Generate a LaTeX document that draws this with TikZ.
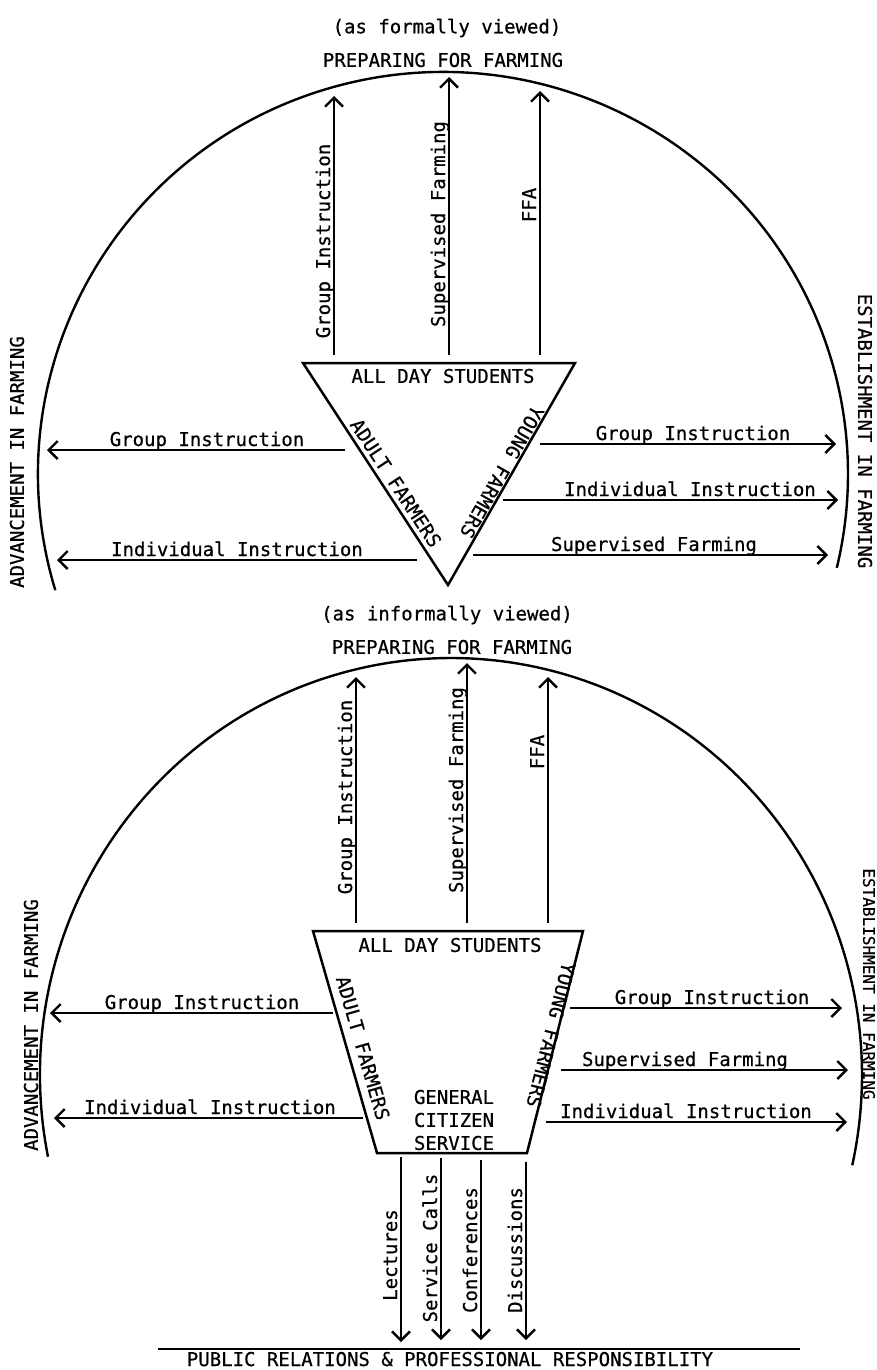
\documentclass[tikz,border=0pt]{standalone}
\usepackage{fontspec}
\newfontfamily\twfont[FakeBold=0.6]{DejaVu Sans Mono}
\usetikzlibrary{arrows.meta}
\begin{document}
\begin{tikzpicture}[x=1pt,y=1pt,
  lbl/.style={font={\twfont\fontsize{19}{23}\selectfont}, inner sep=0pt},
  arr/.style={line width=2.4pt, -{Straight Barb[length=9pt,width=18pt,line width=2.4pt]}},
  shp/.style={line width=2.5pt, line join=miter},
  arcline/.style={line width=2.4pt}]
\useasboundingbox (0,0) rectangle (877,-1370);

%================ TOP (formal) =================
\node[lbl] (t1) at (447,-28) {(as formally viewed)};
\node[lbl] (p1) at (443,-60) {PREPARING FOR FARMING};
\draw[arcline] (443,-474) ++(196.8:405 and 402) arc[start angle=196.8, end angle=-13.5, x radius=405, y radius=402];

\coordinate (A1) at (303,-363);
\coordinate (B1) at (575,-363);
\coordinate (C1) at (448,-585);
\draw[shp] (A1) -- (B1) -- (C1) -- cycle;
\node[lbl] (ads1) at (443,-376) {ALL DAY STUDENTS};
\node[lbl, rotate=-56.7] (af1) at (396,-483) {ADULT FARMERS};
\node[lbl, rotate=-119.7] (yf1) at (502,-472) {YOUNG FARMERS};

% up arrows
\coordinate (u1s) at (334,-355); \coordinate (u1e) at (334,-96);
\coordinate (u2s) at (449,-355); \coordinate (u2e) at (449,-77);
\coordinate (u3s) at (540,-355); \coordinate (u3e) at (540,-91);
\draw[arr] (u1s) -- (u1e);
\draw[arr] (u2s) -- (u2e);
\draw[arr] (u3s) -- (u3e);
\node[lbl, rotate=90, anchor=base] (lu1) at (330,-241) {Group Instruction};
\node[lbl, rotate=90, anchor=base] (lu2) at (445,-224) {Supervised Farming};
\node[lbl, rotate=90, anchor=base] (lu3) at (536,-205) {FFA};

% left arrows
\coordinate (l1s) at (345,-450); \coordinate (l1e) at (47,-450);
\coordinate (l2s) at (417,-560); \coordinate (l2e) at (57,-560);
\draw[arr] (l1s) -- (l1e);
\draw[arr] (l2s) -- (l2e);
\node[lbl, anchor=base] (ll1) at (207,-446) {Group Instruction};
\node[lbl, anchor=base] (ll2) at (237,-556) {Individual Instruction};

% right arrows
\coordinate (r1s) at (540,-444); \coordinate (r1e) at (836,-444);
\coordinate (r2s) at (503,-500); \coordinate (r2e) at (838,-500);
\coordinate (r3s) at (473,-555); \coordinate (r3e) at (828,-555);
\draw[arr] (r1s) -- (r1e);
\draw[arr] (r2s) -- (r2e);
\draw[arr] (r3s) -- (r3e);
\node[lbl, anchor=base] (lr1) at (693,-440) {Group Instruction};
\node[lbl, anchor=base] (lr2) at (690,-496) {Individual Instruction};
\node[lbl, anchor=base] (lr3) at (654,-551) {Supervised Farming};

\node[lbl, rotate=90] (adv1) at (17,-462) {ADVANCEMENT IN FARMING};
\node[lbl, rotate=-90] (est1) at (865,-431) {ESTABLISHMENT IN FARMING};

%================ BOTTOM (informal) =================
\node[lbl] (t2) at (447,-615) {(as informally viewed)};
\node[lbl] (p2) at (452,-647) {PREPARING FOR FARMING};
\draw[arcline] (451,-1075) ++(191.3:411 and 417) arc[start angle=191.3, end angle=-12.5, x radius=411, y radius=417];

\coordinate (A2) at (313,-931);
\coordinate (B2) at (583,-931);
\coordinate (C2) at (527,-1153);
\coordinate (D2) at (377,-1153);
\draw[shp] (A2) -- (B2) -- (C2) -- (D2) -- cycle;
\node[lbl] (ads2) at (450,-945) {ALL DAY STUDENTS};
\node[lbl, rotate=-73.9] (af2) at (363,-1048) {ADULT FARMERS};
\node[lbl, rotate=-104.1] (yf2) at (551,-1035) {YOUNG FARMERS};
\node[lbl, align=center] (gcs) at (454,-1120) {GENERAL\\CITIZEN\\SERVICE};

% up arrows
\coordinate (v1s) at (356,-923); \coordinate (v1e) at (356,-677);
\coordinate (v2s) at (467,-923); \coordinate (v2e) at (467,-663);
\coordinate (v3s) at (548,-923); \coordinate (v3e) at (548,-677);
\draw[arr] (v1s) -- (v1e);
\draw[arr] (v2s) -- (v2e);
\draw[arr] (v3s) -- (v3e);
\node[lbl, rotate=90, anchor=base] (lv1) at (352,-797) {Group Instruction};
\node[lbl, rotate=90, anchor=base] (lv2) at (463,-790) {Supervised Farming};
\node[lbl, rotate=90, anchor=base] (lv3) at (544,-752) {FFA};

% left arrows
\coordinate (m1s) at (333,-1013); \coordinate (m1e) at (50,-1013);
\coordinate (m2s) at (363,-1118); \coordinate (m2e) at (54,-1118);
\draw[arr] (m1s) -- (m1e);
\draw[arr] (m2s) -- (m2e);
\node[lbl, anchor=base] (lm1) at (202,-1009) {Group Instruction};
\node[lbl, anchor=base] (lm2) at (210,-1114) {Individual Instruction};

% right arrows
\coordinate (n1s) at (570,-1008); \coordinate (n1e) at (842,-1008);
\coordinate (n2s) at (561,-1070); \coordinate (n2e) at (848,-1070);
\coordinate (n3s) at (546,-1122); \coordinate (n3e) at (847,-1122);
\draw[arr] (n1s) -- (n1e);
\draw[arr] (n2s) -- (n2e);
\draw[arr] (n3s) -- (n3e);
\node[lbl, anchor=base] (ln1) at (712,-1004) {Group Instruction};
\node[lbl, anchor=base] (ln2) at (685,-1066) {Supervised Farming};
\node[lbl, anchor=base] (ln3) at (686,-1118) {Individual Instruction};

\node[lbl, rotate=90] (adv2) at (31,-1025) {ADVANCEMENT IN FARMING};
\node[lbl, rotate=-90, font={\twfont\fontsize{16}{19}\selectfont}] (est2) at (869,-984) {ESTABLISHMENT IN FARMING};

% down arrows
\coordinate (d1s) at (401,-1157); \coordinate (d1e) at (401,-1342);
\coordinate (d2s) at (441,-1158); \coordinate (d2e) at (441,-1340);
\coordinate (d3s) at (481,-1160); \coordinate (d3e) at (481,-1340);
\coordinate (d4s) at (526,-1162); \coordinate (d4e) at (526,-1340);
\draw[arr] (d1s) -- (d1e);
\draw[arr] (d2s) -- (d2e);
\draw[arr] (d3s) -- (d3e);
\draw[arr] (d4s) -- (d4e);
\node[lbl, rotate=90, anchor=base] (ld1) at (397,-1255) {Lectures};
\node[lbl, rotate=90, anchor=base] (ld2) at (437,-1248) {Service Calls};
\node[lbl, rotate=90, anchor=base] (ld3) at (477,-1250) {Conferences};
\node[lbl, rotate=90, anchor=base] (ld4) at (522,-1250) {Discussions};

\coordinate (bl1) at (158,-1349); \coordinate (bl2) at (800,-1349);
\draw[line width=2.4pt] (bl1) -- (bl2);
\node[lbl, anchor=base] (pr) at (450,-1366) {PUBLIC RELATIONS \& PROFESSIONAL RESPONSIBILITY};
\end{tikzpicture}
\end{document}
